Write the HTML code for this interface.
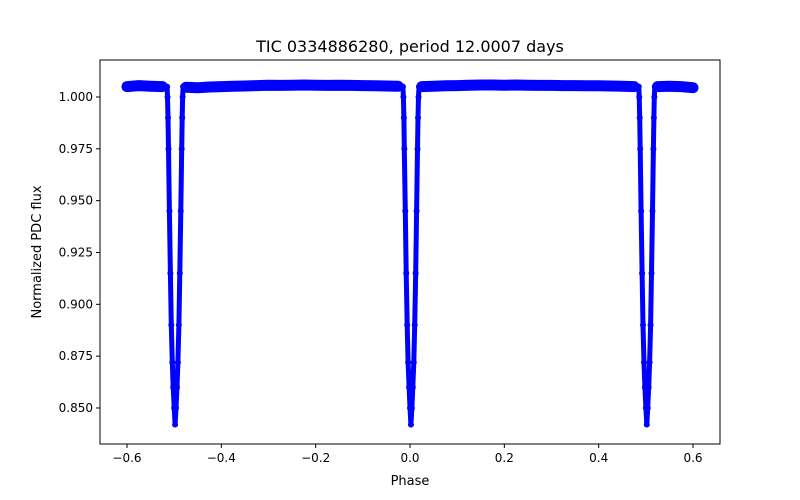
<!DOCTYPE html>
<html><head><meta charset="utf-8"><style>
body{margin:0;background:#fff}
svg{display:block;font-family:"DejaVu Sans","Liberation Sans",sans-serif}
</style></head><body>
<svg id="chart" width="800" height="500">
<rect width="800" height="500" fill="#fff"/>
<text x="410" y="52" text-anchor="middle" font-size="16">TIC 0334886280, period 12.0007 days</text>
<g id="plot"></g>
<g id="axes"></g>
<text x="410" y="485" text-anchor="middle" font-size="13">Phase</text>
<text transform="translate(41,252) rotate(-90)" text-anchor="middle" font-size="13">Normalized PDC flux</text>
</svg>
<script>
const xTicks=[-0.6,-0.4,-0.2,0.0,0.2,0.4,0.6];
const xTickLabels=["−0.6","−0.4","−0.2","0.0","0.2","0.4","0.6"];
const yTicks=[0.850,0.875,0.900,0.925,0.950,0.975,1.000];
const yTickLabels=["0.850","0.875","0.900","0.925","0.950","0.975","1.000"];
const eclipseCenters=[-0.498,0.002,0.502];
const profileOffsets=[0.000,0.002,0.004,0.006,0.008,0.010,0.012,0.014,0.015,0.016,0.017];
const profileFlux=[0.842,0.850,0.860,0.872,0.890,0.915,0.945,0.975,0.990,1.000,1.005];
const basePhase=[-0.6,-0.575,-0.55,-0.525,-0.475,-0.45,-0.425,-0.4,-0.375,-0.35,-0.325,-0.3,-0.275,-0.25,-0.225,-0.2,-0.175,-0.15,-0.125,-0.1,-0.075,-0.05,-0.025,0.025,0.05,0.075,0.1,0.125,0.15,0.175,0.2,0.225,0.25,0.275,0.3,0.325,0.35,0.375,0.4,0.425,0.45,0.475,0.525,0.55,0.575,0.6];
const baseFlux=[1.0050,1.0055,1.0052,1.0050,1.0047,1.0045,1.0048,1.0050,1.0052,1.0053,1.0055,1.0057,1.0056,1.0057,1.0058,1.0057,1.0056,1.0057,1.0056,1.0055,1.0054,1.0053,1.0052,1.0050,1.0052,1.0054,1.0055,1.0057,1.0058,1.0058,1.0057,1.0058,1.0057,1.0056,1.0056,1.0055,1.0055,1.0054,1.0054,1.0053,1.0052,1.0050,1.0050,1.0052,1.0050,1.0045];

const L=100,R=720,T=60,B=444;
const X=p=>410+p*471.7;
const Y=f=>97+(1.0-f)/0.025*51.83;
const NS="http://www.w3.org/2000/svg";
const plot=document.getElementById('plot'),axes=document.getElementById('axes');
function mk(tag,attrs,parent){const e=document.createElementNS(NS,tag);for(const k in attrs)e.setAttribute(k,attrs[k]);parent.appendChild(e);return e;}

let pts=[];
basePhase.forEach((p,i)=>pts.push([p,baseFlux[i]]));
eclipseCenters.forEach(c=>{profileOffsets.forEach((o,i)=>{pts.push([c-o,profileFlux[i]]);if(o>0)pts.push([c+o,profileFlux[i]]);});});
pts.sort((a,b)=>a[0]-b[0]);
const d=pts.map((q,i)=>(i?'L':'M')+X(q[0]).toFixed(1)+' '+Y(q[1]).toFixed(1)).join(' ');
const curve=mk('path',{d:d,fill:'none',stroke:'#0000ff','stroke-width':5,'stroke-linejoin':'round','stroke-linecap':'round'},plot);


let segs=[],cur=[];
basePhase.forEach((p,i)=>{cur.push([p,baseFlux[i]]);if(i<basePhase.length-1&&eclipseCenters.some(c=>c>p&&c<basePhase[i+1])){segs.push(cur);cur=[];}});
segs.push(cur);
segs.forEach(s=>{
  const dd=s.map((q,i)=>(i?'L':'M')+X(q[0]).toFixed(1)+' '+Y(q[1]).toFixed(1)).join(' ');
  const b=mk('path',{d:dd,fill:'none',stroke:'#0000ff','stroke-width':11,'stroke-linejoin':'round','stroke-linecap':'round'},plot);
  
  
});
pts.forEach(q=>{const c=mk('circle',{cx:X(q[0]),cy:Y(q[1]),r:3,fill:'#0000ff'},plot);
  
  });

const frame=mk('rect',{x:L,y:T,width:R-L,height:B-T,fill:'none',stroke:'#000','stroke-width':1},axes);


xTicks.forEach((v,i)=>{const x=X(v);
  const t=mk('line',{x1:x,x2:x,y1:B,y2:B+4,stroke:'#000'},axes);
  
  
  const l=mk('text',{x:x,y:B+18,'text-anchor':'middle','font-size':12},axes);l.textContent=xTickLabels[i];
  
  });
yTicks.forEach((v,i)=>{const y=Y(v);
  const t=mk('line',{x1:L-4,x2:L,y1:y,y2:y,stroke:'#000'},axes);
  
  
  const l=mk('text',{x:L-7,y:y+4,'text-anchor':'end','font-size':12},axes);l.textContent=yTickLabels[i];
  
  });
</script>
</body></html>
